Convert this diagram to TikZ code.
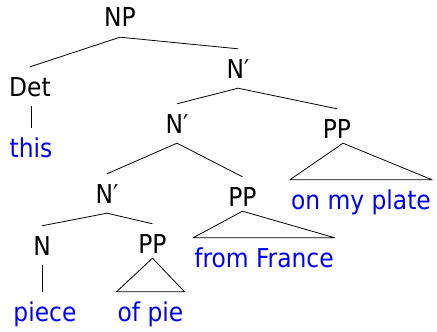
\documentclass[tikz,border=0pt]{standalone}
\usepackage{fontspec}
\setmainfont{DejaVu Sans Condensed}
\usepackage{xcolor}
\definecolor{wordblue}{RGB}{0,0,255}

\begin{document}
\begin{tikzpicture}[x=1pt, y=-1pt,
        cat/.style={anchor=base,inner xsep=1pt,inner ysep=10pt,text height=19pt,text depth=0pt,
          font=\fontsize{26}{30}\selectfont},
        word/.style={cat,text=wordblue},
        branch/.style={line width=0.8pt,line join=round}]
  \useasboundingbox (0,0) rectangle (437,332);
  % categories
  \node[cat] (np) at (120,27) {NP};
  \node[cat] (det) at (30,96) {Det};
  \node[cat] (nbA) at (238,78) {N′};
  \node[cat] (nbB) at (177,133) {N′};
  \node[cat] (ppA) at (337,138) {PP};
  \node[cat] (nbC) at (107,203) {N′};
  \node[cat] (ppB) at (242.5,206) {PP};
  \node[cat] (n) at (42,255) {N};
  \node[cat] (ppC) at (152.5,253) {PP};
  % words
  \node[word] (this) at (31,157) {this};
  \node[word] (plate) at (361,209) {on my plate};
  \node[word] (france) at (264,267) {from France};
  \node[word] (piece) at (45,321) {piece};
  \node[word] (pie) at (150.5,321) {of pie};
  % branches
  \draw[branch] (np.south) -- (det.north);
  \draw[branch] (np.south) -- (nbA.north);
  \draw[branch] ([xshift=1pt]det.south) -- ([xshift=1pt]det.south |- this.north);
  \draw[branch] (nbA.south) -- (nbB.north);
  \draw[branch] (nbA.south) -- (ppA.north);
  \draw[branch] (nbB.south) -- (nbC.north);
  \draw[branch] (nbB.south) -- (ppB.north);
  \draw[branch] (nbC.south) -- (n.north);
  \draw[branch] (nbC.south) -- (ppC.north);
  \draw[branch] (n.south) -- (n.south |- piece.north);
  % triangles
  \draw[branch] ([xshift=6pt,yshift=5pt]ppA.south) -- (plate.north west) -- (plate.north east) -- cycle;
  \draw[branch] ([yshift=5pt]ppB.south) -- (france.north west) -- (france.north east) -- cycle;
  \draw[branch] ([yshift=5pt]ppC.south) -- (pie.north west) -- (pie.north east) -- cycle;
\end{tikzpicture}
\end{document}
